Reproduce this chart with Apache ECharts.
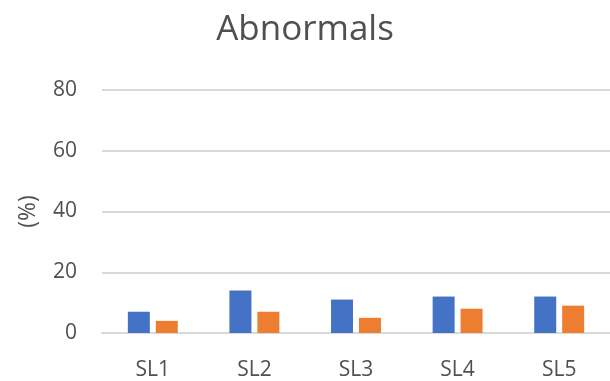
<!DOCTYPE html>
<html><head><meta charset="utf-8">
<script src="https://cdn.jsdelivr.net/npm/echarts@6/dist/echarts.min.js"></script>
<style>html,body{margin:0;padding:0;background:#fff}#c{width:610px;height:381px}</style>
</head><body><div id="c"></div>
<script>
const categories = ["SL1", "SL2", "SL3", "SL4", "SL5"];
const seriesA = [7, 14, 11, 12, 12];
const seriesB = [4, 7, 5, 8, 9];
const yTicks = { min: 0, max: 80, interval: 20 };

const chart = echarts.init(document.getElementById('c'), null, { renderer: 'canvas' });
chart.setOption({
  animation: false,
  backgroundColor: '#ffffff',
  title: {
    text: 'Abnormals', left: 'center', top: 8,
    textStyle: { fontFamily: 'Open Sans', fontSize: 35, fontWeight: 'normal', color: '#505050' }
  },
  grid: { left: 102, right: -7, top: 90, bottom: 46 },
  xAxis: {
    type: 'category', data: categories,
    axisLine: { show: true, lineStyle: { color: '#d9d9d9', width: 2 } },
    axisTick: { show: false },
    axisLabel: { color: '#505050', fontFamily: 'Open Sans', fontSize: 21, margin: 27 }
  },
  yAxis: {
    type: 'value', min: yTicks.min, max: yTicks.max, interval: yTicks.interval,
    name: '(%)', nameLocation: 'middle', nameGap: 62, nameRotate: 90,
    nameTextStyle: { color: '#505050', fontFamily: 'Open Sans', fontSize: 23 },
    axisLine: { show: false }, axisTick: { show: false },
    splitLine: { lineStyle: { color: '#d9d9d9', width: 2 } },
    axisLabel: { color: '#505050', fontFamily: 'Open Sans', fontSize: 21, margin: 25 }
  },
  series: [
    { type: 'bar', data: seriesA, barWidth: 22, barGap: '27%', itemStyle: { color: '#4472C4' } },
    { type: 'bar', data: seriesB, barWidth: 22, barGap: '27%', itemStyle: { color: '#ED7D31' } }
  ]
});
</script></body></html>
